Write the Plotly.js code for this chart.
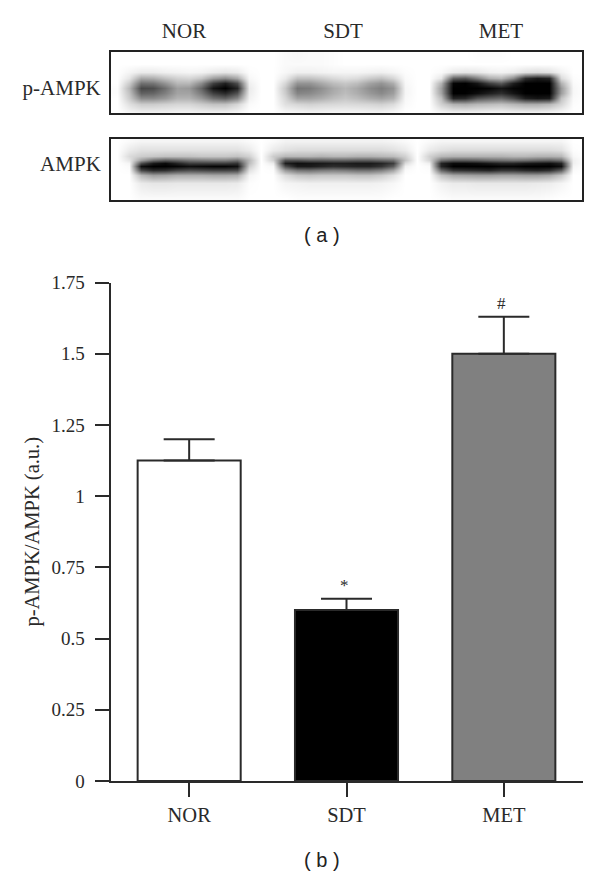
<!DOCTYPE html>
<html><head><meta charset="utf-8">
<script src="https://cdn.plot.ly/plotly-3.0.1.min.js"></script>
<style>html,body{margin:0;padding:0;background:#fff}</style></head>
<body><div id="chart" style="width:600px;height:877px"></div>
<script>
const categories = ['NOR','SDT','MET'];
const ratioValues = [1.125,0.6,1.5];
const ratioErrors = [0.075,0.04,0.13];
const significance = ['','*','#'];
const barColors = ['#ffffff','#000000','#808080'];
const yTickVals = [0,0.25,0.5,0.75,1,1.25,1.5,1.75];
const yTickText = ['0','0.25','0.5','0.75','1','1.25','1.5','1.75'];

// blot densitometry: brightness 0 (black) to 100 (white)
const blotColumns = [117,129,141,153,165,177,189,201,213,225,237,249,261,273,285,297,309,321,333,345,357,369,381,393,405,417,429,441,453,465,477,489,501,513,525,537,549,561,573,585];
const pAmpkRowsY = [56,64,72,78,83,88,93,98,104,112];
const pAmpkBrightness = [
[100,100,100,100,100,100,100,100,100,100,100,100,100,100,98,97,98,98,99,100,100,100,100,100,100,100,100,100,100,100,99,99,99,100,100,100,100,100,100,100],
[100,100,100,100,100,100,100,100,100,100,100,100,100,100,98,98,98,98,99,100,100,100,100,100,100,100,100,100,100,100,100,100,100,100,100,100,100,100,100,100],
[100,96,92,92,94,95,96,95,92,90,92,99,100,100,97,94,94,95,96,96,96,95,94,96,99,100,100,98,92,90,91,94,95,93,88,86,88,95,100,100],
[100,90,66,68,76,82,84,78,62,55,66,97,100,100,92,76,76,80,85,88,86,80,76,84,98,100,100,90,38,34,50,68,72,55,18,10,14,86,99,100],
[100,80,44,46,58,72,72,55,25,12,30,94,100,100,84,58,58,66,74,78,74,64,58,68,97,100,100,70,2,0,8,25,35,12,0,0,0,70,98,100],
[99,72,28,30,44,62,60,40,8,0,14,92,100,100,78,46,48,56,66,72,66,56,50,58,96,100,100,62,0,0,0,2,8,2,0,0,0,60,97,100],
[99,76,38,40,50,64,64,48,25,16,32,93,100,100,80,52,54,60,68,74,68,60,54,62,96,100,100,64,0,0,5,12,18,8,0,0,0,62,97,100],
[100,80,54,54,60,70,70,60,44,38,52,95,100,100,84,64,64,68,74,78,74,68,64,70,97,100,100,74,14,16,32,38,42,30,12,8,10,76,98,100],
[100,88,80,80,82,84,84,80,76,76,84,98,100,100,88,84,82,84,85,86,85,84,82,86,98,100,100,82,70,68,72,74,76,72,68,68,72,84,99,100],
[100,96,94,94,94,95,95,94,94,94,96,100,100,100,97,96,95,95,96,96,96,95,95,97,100,100,100,96,94,94,94,95,95,94,94,94,95,97,100,100]
];
const ampkRowsY = [141,150,156,160,163,166,170,175,183,198];
const ampkBrightness = [
[100,98,96,96,96,96,96,96,96,96,96,98,100,98,95,95,95,95,95,95,95,95,95,96,98,100,98,96,96,96,96,96,96,96,96,96,96,96,100,100],
[100,92,88,88,88,88,88,88,88,88,88,92,100,92,88,86,86,86,86,86,86,86,86,88,92,100,92,88,86,86,86,86,86,86,86,86,86,88,99,100],
[100,86,80,78,76,76,76,78,78,78,76,82,100,80,72,72,72,70,72,72,70,70,72,74,82,100,82,72,70,70,70,70,70,72,72,70,70,72,97,100],
[100,90,62,44,36,40,46,48,50,50,44,72,100,82,32,32,36,36,38,38,36,36,40,44,76,100,84,44,36,36,38,42,44,46,44,40,38,44,94,100],
[100,96,30,10,4,14,24,24,24,24,20,74,100,92,12,6,8,10,12,12,10,10,14,24,86,100,94,14,4,4,6,10,14,14,10,8,6,14,94,100],
[100,98,6,0,0,2,6,4,2,2,6,80,100,97,30,10,10,14,18,16,14,14,20,36,94,100,98,14,0,0,0,0,2,2,0,0,0,6,96,100],
[100,99,28,16,18,26,30,28,26,26,28,88,100,99,60,46,44,48,50,48,44,44,50,64,98,100,99,40,20,18,16,14,20,20,16,14,18,36,98,100],
[100,100,72,62,64,68,68,68,66,66,68,96,100,100,86,78,76,78,78,78,76,76,80,88,100,100,100,76,66,64,62,62,64,64,62,62,66,78,100,100],
[100,100,92,90,90,91,91,91,91,91,92,99,100,100,96,95,94,94,94,94,94,94,95,97,100,100,100,95,92,92,91,91,91,91,91,92,93,96,100,100],
[100,100,98,98,98,98,98,98,98,98,98,100,100,100,100,99,99,99,99,99,99,99,99,100,100,100,100,99,98,98,98,98,98,98,98,98,99,100,100,100]
];
const blotLaneX = [184,343,501];
const blotNames = ['p-AMPK','AMPK'];

const W=600,H=877, ink='#2a2a2a', serif='"Liberation Serif", serif';
const dy=(t,b)=>[1-b/H,1-t/H], dx=(l,r)=>[l/W,r/W];

const bars={type:'bar',x:categories,y:ratioValues,width:0.655,
  marker:{color:barColors,line:{color:'#2a2a2a',width:2}},
  error_y:{type:'data',symmetric:false,array:ratioErrors,arrayminus:[0,0,0],color:'#2a2a2a',thickness:2,width:25.5},
  xaxis:'x',yaxis:'y',hoverinfo:'skip'};
const gray=[[0,'#000000'],[1,'#ffffff']];
const heat1={type:'heatmap',x:blotColumns,y:pAmpkRowsY,z:pAmpkBrightness,zmin:0,zmax:100,zsmooth:'best',colorscale:gray,showscale:false,xaxis:'x2',yaxis:'y2',hoverinfo:'skip'};
const heat2={type:'heatmap',x:blotColumns,y:ampkRowsY,z:ampkBrightness,zmin:0,zmax:100,zsmooth:'best',colorscale:gray,showscale:false,xaxis:'x3',yaxis:'y3',hoverinfo:'skip'};

const frame={showline:true,mirror:true,linecolor:'#222',linewidth:2,zeroline:false,showgrid:false,ticks:''};
const layout={width:W,height:H,margin:{l:0,r:0,t:0,b:0},paper_bgcolor:'#fff',plot_bgcolor:'#fff',showlegend:false,
  font:{family:serif,size:19,color:ink},
  xaxis:{domain:dx(110.5,582.5),type:'category',range:[-0.5,2.5],showline:true,linecolor:ink,linewidth:2,ticks:'outside',ticklen:14,tickwidth:2,tickcolor:ink,showgrid:false,zeroline:false,tickfont:{family:serif,size:20.5,color:ink},ticklabelstandoff:0},
  yaxis:{domain:dy(282.5,781),range:[0,1.75],tickvals:yTickVals,ticktext:yTickText,showline:true,linecolor:ink,linewidth:2,ticks:'outside',ticklen:14,tickwidth:2,tickcolor:ink,showgrid:false,zeroline:false,tickfont:{family:serif,size:19,color:ink},ticklabelstandoff:6,
    title:{text:'p-AMPK/AMPK (a.u.)',font:{family:serif,size:20.5,color:ink},standoff:6}},
  xaxis2:Object.assign({},frame,{domain:dx(111,582),range:[111,582],side:'top',anchor:'y2',tickvals:blotLaneX,ticktext:categories,tickfont:{family:serif,size:21,color:ink},ticklabelstandoff:4}),
  yaxis2:Object.assign({},frame,{domain:dy(52,113),range:[113,52],anchor:'x2',tickvals:[88],ticktext:[blotNames[0]],tickfont:{family:serif,size:21,color:ink},ticklabelstandoff:4}),
  xaxis3:Object.assign({},frame,{domain:dx(111,582),range:[111,582],anchor:'y3',showticklabels:false}),
  yaxis3:Object.assign({},frame,{domain:dy(139,200),range:[200,139],anchor:'x3',tickvals:[164],ticktext:[blotNames[1]],tickfont:{family:serif,size:21,color:ink},ticklabelstandoff:4}),
  annotations:[
    {xref:'paper',yref:'paper',x:322/W,y:1-235/H,xanchor:'center',yanchor:'middle',text:'( a )',showarrow:false,font:{family:'"Liberation Sans", sans-serif',size:20,color:'#222'}},
    {xref:'paper',yref:'paper',x:322/W,y:1-860/H,xanchor:'center',yanchor:'middle',text:'( b )',showarrow:false,font:{family:'"Liberation Sans", sans-serif',size:20,color:'#222'}}
  ].concat(categories.map((c,i)=>({xref:'x',yref:'y',x:c,y:ratioValues[i]+ratioErrors[i],yanchor:'bottom',xshift:-2,yshift:2,text:significance[i],showarrow:false,font:{family:serif,size:17,color:ink}})).filter(a=>a.text))
};
Plotly.newPlot('chart',[bars,heat1,heat2],layout,{staticPlot:true,displayModeBar:false});
</script></body></html>
